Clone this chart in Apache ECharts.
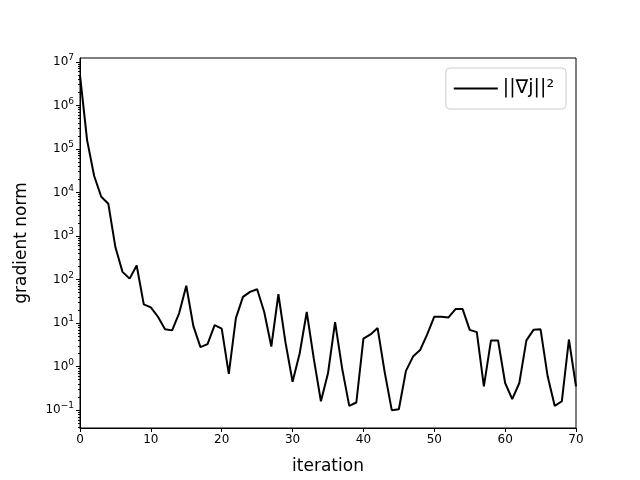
<!DOCTYPE html>
<html>
<head>
<meta charset="UTF-8">
<script src="https://cdn.jsdelivr.net/npm/echarts@6/dist/echarts.min.js"></script>
</head>
<body style="margin:0">
<div id="main" style="width:640px;height:480px;"></div>
<script>
var iterations = [];
for (var i = 0; i <= 70; i++) iterations.push(i);
var gradNorm = [5e6, 1.6e5, 2.4e4, 8e3, 5.5e3, 550, 150, 105, 210, 27,
  23, 14, 7.2, 6.8, 17, 72, 8.5, 2.8, 3.3, 9,
  7.5, 0.68, 13, 40, 52, 60, 18, 2.9, 46, 3.6,
  0.45, 2, 18, 1.5, 0.16, 0.7, 10.5, 0.9, 0.125, 0.15,
  4.4, 5.5, 7.7, 0.75, 0.1, 0.105, 0.8, 1.7, 2.4, 5.5,
  14, 14, 13.5, 21, 21, 7, 6.2, 0.35, 4, 4,
  0.42, 0.18, 0.42, 4, 7, 7.2, 0.6, 0.125, 0.16, 4.2,
  0.35];
var majorExp = [-1, 0, 1, 2, 3, 4, 5, 6, 7];

var yMin = -1.41, yMax = 7.09;
var minorTicks = [];
for (var e = -2; e <= 7; e++) {
  for (var k = 2; k <= 9; k++) {
    var v = e + Math.log10(k);
    if (v > yMin && v < yMax) minorTicks.push(v);
  }
}
var sup = function (n) { return String(n).replace('-', '\u2212'); };

var myChart = echarts.init(document.getElementById('main'));
myChart.setOption({
  animation: false,
  grid: { left: 80, right: 64, top: 58, bottom: 52, show: true, borderColor: '#000', borderWidth: 1 },
  legend: {
    right: 74, top: 68, itemWidth: 44, itemHeight: 2, itemGap: 10,
    padding: [11, 12, 11, 8],
    borderColor: '#ccc', borderWidth: 1, borderRadius: 4,
    icon: 'rect',
    textStyle: { fontSize: 19, fontFamily: 'DejaVu Sans', color: '#000' },
    data: ['||\u2207j||\u00B2']
  },
  xAxis: {
    type: 'value', min: 0, max: 70, interval: 10,
    name: 'iteration', nameLocation: 'middle', nameGap: 30,
    nameTextStyle: { fontSize: 17, fontFamily: 'DejaVu Sans', color: '#000' },
    axisLine: { onZero: false, lineStyle: { color: '#000' } },
    axisTick: { inside: false, length: 4, lineStyle: { color: '#000' } },
    axisLabel: { fontSize: 12, fontFamily: 'DejaVu Sans', color: '#000', margin: 6 },
    splitLine: { show: false }
  },
  yAxis: [{
    type: 'value', min: yMin, max: yMax,
    name: 'gradient norm', nameLocation: 'middle', nameGap: 50,
    nameTextStyle: { fontSize: 17, fontFamily: 'DejaVu Sans', color: '#000' },
    axisLine: { onZero: false, lineStyle: { color: '#000' } },
    axisTick: { length: 4, customValues: majorExp, lineStyle: { color: '#000' } },
    axisLabel: {
      customValues: majorExp, margin: 6,
      formatter: function (v) { return '{b|10}{s|' + sup(Math.round(v)) + '}'; },
      rich: {
        b: { fontSize: 12, fontFamily: 'DejaVu Sans', color: '#000' },
        s: { fontSize: 9, fontFamily: 'DejaVu Sans', color: '#000', verticalAlign: 'top', padding: [0, 0, 8, 0] }
      }
    },
    splitLine: { show: false }
  }, {
    type: 'value', min: yMin, max: yMax, position: 'left',
    axisLine: { show: false, onZero: false },
    axisTick: { length: 2, customValues: minorTicks, lineStyle: { color: '#000' } },
    axisLabel: { show: false },
    splitLine: { show: false }
  }],
  series: [{
    name: '||\u2207j||\u00B2', type: 'line', symbol: 'none',
    lineStyle: { color: '#000', width: 2 }, itemStyle: { color: '#000' },
    data: iterations.map(function (x, i) { return [x, Math.log10(gradNorm[i])]; })
  }]
});
</script>
</body>
</html>
